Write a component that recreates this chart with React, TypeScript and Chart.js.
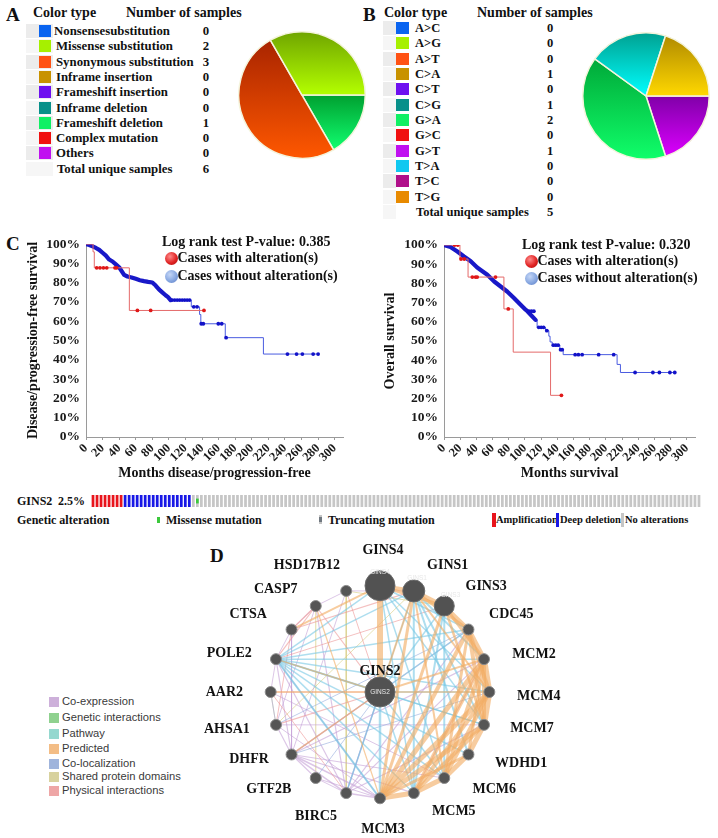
import React, { useEffect, useRef } from 'react';
import { Chart, registerables } from 'chart.js';
Chart.register(...registerables);

const SERIF = '"Liberation Serif", "Times New Roman", Times, serif';
const SANS = '"Liberation Sans", Arial, Helvetica, sans-serif';
Chart.defaults.font.family = SERIF;

/* ---------------- Panel A data ---------------- */
const mutationTypes = ['Nonsensesubstitution', 'Missense substitution', 'Synonymous substitution', 'Inframe insertion', 'Frameshift insertion', 'Inframe deletion', 'Frameshift deletion', 'Complex mutation', 'Others'];
const mutationCounts = [0, 2, 3, 0, 0, 0, 1, 0, 0];
const mutationTotal = 6;

/* ---------------- Panel B data ---------------- */
const substitutionTypes = ['A>C', 'A>G', 'A>T', 'C>A', 'C>T', 'C>G', 'G>A', 'G>C', 'G>T', 'T>A', 'T>C', 'T>G'];
const substitutionCounts = [0, 0, 0, 1, 0, 1, 2, 0, 1, 0, 0, 0];
const substitutionTotal = 5;

/* ---------------- Panel C data ---------------- */
const monthTickStep = 20;
const monthTickMax = 300;
const survivalTickStep = 10;

const dfsPValue = '0.385';
const dfsAlteredMonths = [0, 8.5, 10, 52.3, 142.3];
const dfsAlteredSurvival = [100, 96, 87.7, 65.6, 65.6];
const dfsAlteredCensored = [12.9, 16.9, 21, 25, 35, 37, 62, 78, 142.3];
const dfsUnalteredMonths = [0, 4, 8, 12, 16, 20, 24, 28, 32, 36, 40, 43, 46, 50, 55, 60, 65, 70, 75, 80, 84, 88, 92, 96, 99, 102, 127, 137, 138.5, 168, 214, 280];
const dfsUnalteredSurvival = [100, 99.5, 98.8, 98, 97, 95.5, 94, 92, 91, 89.5, 88, 86, 84, 83.2, 82.7, 82, 81.3, 80.8, 80.4, 80.1, 78.5, 76.5, 75, 73.5, 72.5, 71, 67.5, 63.5, 58.7, 51.5, 43, 43];
const dfsUnalteredCensored = [104, 107, 110, 113, 116, 119, 122, 125, 130, 134, 139, 141.5, 159.6, 163.7, 169, 243, 254, 261, 274, 280];

const osPValue = '0.320';
const osAlteredMonths = [0, 19.7, 29.7, 74, 85.5, 131.6, 145];
const osAlteredSurvival = [100, 92.7, 83.3, 66.7, 44.2, 21.7, 21.7];
const osAlteredCensored = [13, 17, 21, 25, 35, 39, 41, 63.6, 79.4, 145];
const osUnalteredMonths = [0, 8, 16.5, 24.7, 33, 41, 47, 53.5, 62, 70, 78, 86.4, 94.6, 100.8, 103, 113, 115, 125.3, 129.5, 131, 133.6, 143, 147.2, 213.8, 217.9, 285];
const osUnalteredSurvival = [100, 99, 96.6, 94, 91.5, 88.3, 86.5, 84.5, 81, 78.4, 75.8, 72.4, 68.9, 66.3, 65.5, 61, 57.1, 55.4, 52.5, 49.5, 47.8, 45.5, 42.9, 37.8, 33.6, 33.6];
const osUnalteredCensored = [105, 108, 111, 117, 120, 123, 127, 135, 138, 141, 144, 146, 162, 166, 170.6, 191, 209.6, 236, 258, 266, 279, 285];

/* ---------------- Oncoprint data ---------------- */
const oncoGene = 'GINS2';
const oncoAlteredPct = '2.5%';
const oncoGroups: [string, number][] = [['amp', 8], ['del', 17], ['none', 1], ['missense', 1], ['none', 125]];

/* ---------------- Panel D data ---------------- */
const hubGene = 'GINS2';
const networkGenes = ['GINS4', 'GINS1', 'GINS3', 'CDC45', 'MCM2', 'MCM4', 'MCM7', 'WDHD1', 'MCM6', 'MCM5', 'MCM3', 'BIRC5', 'GTF2B', 'DHFR', 'AHSA1', 'AAR2', 'POLE2', 'CTSA', 'CASP7', 'HSD17B12'];
const networkTypes = ['Co-expression', 'Genetic interactions', 'Pathway', 'Predicted', 'Co-localization', 'Shared protein domains', 'Physical interactions'];
const predictedEdges: [string, string, number][] = [
  ['GINS4', 'GINS2', 6], ['GINS4', 'GINS1', 4], ['GINS1', 'GINS3', 4], ['GINS3', 'CDC45', 4], ['CDC45', 'MCM2', 5], ['MCM2', 'MCM4', 6],
  ['MCM4', 'MCM7', 6], ['MCM7', 'WDHD1', 5], ['WDHD1', 'MCM6', 5], ['MCM6', 'MCM5', 5], ['MCM5', 'MCM3', 5], ['MCM3', 'MCM7', 5],
  ['MCM3', 'MCM4', 5], ['MCM3', 'MCM2', 5], ['MCM3', 'CDC45', 4], ['MCM5', 'MCM2', 4], ['MCM6', 'MCM2', 4], ['MCM5', 'MCM4', 4],
  ['MCM6', 'MCM4', 4], ['MCM5', 'MCM7', 4], ['CDC45', 'MCM7', 4], ['CDC45', 'MCM6', 3], ['CDC45', 'MCM4', 4], ['MCM2', 'MCM7', 4],
  ['GINS1', 'MCM3', 3], ['GINS3', 'MCM3', 3], ['GINS1', 'CDC45', 3], ['GINS3', 'MCM2', 3], ['GINS4', 'GINS3', 3], ['WDHD1', 'MCM3', 3],
  ['WDHD1', 'MCM2', 3], ['GINS1', 'MCM4', 2], ['GINS2', 'MCM2', 2], ['GINS2', 'GINS1', 2], ['CTSA', 'GINS4', 2], ['AAR2', 'MCM4', 1.5],
  ['DHFR', 'GINS2', 1.5], ['POLE2', 'GINS2', 1.5], ['CASP7', 'MCM3', 1.2], ['GINS3', 'MCM7', 2.5], ['GINS1', 'MCM6', 2],
];
const pathwayEdges: [string, string, number][] = [
  ['POLE2', 'GINS2', 2], ['POLE2', 'MCM3', 2], ['POLE2', 'MCM5', 1.5], ['POLE2', 'MCM6', 1.5], ['POLE2', 'MCM2', 1.5], ['POLE2', 'MCM4', 1.5],
  ['POLE2', 'MCM7', 1.5], ['POLE2', 'CDC45', 1.5], ['POLE2', 'GINS1', 1.5], ['POLE2', 'GINS4', 1.5], ['POLE2', 'WDHD1', 1.5], ['GINS1', 'MCM5', 2],
  ['GINS1', 'WDHD1', 2], ['GINS1', 'MCM7', 2], ['GINS1', 'MCM2', 2], ['GINS3', 'MCM6', 2], ['GINS3', 'MCM5', 2], ['GINS4', 'MCM5', 1.5],
  ['GINS4', 'MCM6', 1.5], ['GINS4', 'CDC45', 1.5], ['GINS4', 'MCM7', 1.5], ['GINS4', 'MCM4', 1.5], ['GINS2', 'MCM3', 2.5], ['GINS2', 'MCM5', 1.5],
  ['GINS2', 'MCM6', 1.5], ['GINS2', 'CDC45', 1.5], ['GINS2', 'MCM4', 1.5], ['GINS2', 'MCM7', 1.5], ['GINS2', 'GINS3', 1.5], ['GINS1', 'BIRC5', 1.2],
];
const coexpressionEdges: [string, string, number][] = [
  ['DHFR', 'MCM3', 1.5], ['DHFR', 'BIRC5', 1.5], ['DHFR', 'GINS2', 1.2], ['DHFR', 'MCM2', 1.2], ['DHFR', 'CDC45', 1.2], ['DHFR', 'MCM5', 1.2],
  ['DHFR', 'MCM6', 1.2], ['DHFR', 'AHSA1', 1.2], ['DHFR', 'GTF2B', 1.2], ['BIRC5', 'MCM3', 1.5], ['BIRC5', 'GINS2', 1.2], ['BIRC5', 'MCM2', 1.2],
  ['BIRC5', 'CDC45', 1.2], ['BIRC5', 'MCM7', 1.2], ['AHSA1', 'AAR2', 1], ['AAR2', 'POLE2', 1], ['POLE2', 'CTSA', 1], ['CTSA', 'CASP7', 1],
  ['CASP7', 'HSD17B12', 1], ['HSD17B12', 'GINS1', 1], ['CASP7', 'BIRC5', 1.2], ['HSD17B12', 'DHFR', 1], ['AHSA1', 'MCM3', 1], ['GTF2B', 'MCM3', 1],
  ['CASP7', 'AHSA1', 1], ['AAR2', 'MCM6', 1], ['AHSA1', 'MCM7', 1], ['POLE2', 'DHFR', 1.2], ['POLE2', 'BIRC5', 1.2], ['CTSA', 'DHFR', 1], ['GTF2B', 'BIRC5', 1],
];
const physicalEdges: [string, string, number][] = [
  ['CASP7', 'CTSA', 1.5], ['CASP7', 'POLE2', 1.2], ['CASP7', 'GINS2', 1.2], ['CTSA', 'GINS1', 1.2], ['POLE2', 'GINS3', 1], ['AAR2', 'BIRC5', 1],
  ['CTSA', 'AHSA1', 1], ['HSD17B12', 'GINS2', 1], ['AHSA1', 'GINS2', 1.2], ['AAR2', 'GINS2', 1], ['MCM2', 'MCM5', 1.2],
];
const sharedDomainEdges: [string, string, number][] = [
  ['HSD17B12', 'GINS3', 1], ['CASP7', 'GTF2B', 1.2], ['HSD17B12', 'BIRC5', 1], ['AHSA1', 'GINS1', 1],
];
const colocalizationEdges: [string, string, number][] = [
  ['GINS2', 'BIRC5', 1.5], ['GTF2B', 'GINS2', 1], ['AHSA1', 'CDC45', 1], ['DHFR', 'MCM4', 1], ['POLE2', 'MCM3', 1.2],
];
const geneticEdges: [string, string, number][] = [['AAR2', 'AHSA1', 0.8]];

/* ---------------- styles ---------------- */
const mutationSwatch = ['#0a64f0', '#a6f000', '#ff5214', '#c89200', '#6e10f0', '#08908a', '#10f064', '#f01010', '#c010f0'];
const mutationGrad: [string, string][] = [
  ['#0040b0', '#1070ff'], ['#6fa400', '#b4ff00'], ['#a82400', '#ff5800'], ['#a07000', '#e0a800'], ['#5000b0', '#8020ff'],
  ['#006060', '#10a0a0'], ['#00a030', '#10ff70'], ['#a00000', '#ff2020'], ['#9000b0', '#e020ff'],
];
const substitutionSwatch = ['#0a64f0', '#a6f000', '#ff5214', '#c89200', '#6e10f0', '#08908a', '#10f064', '#f01010', '#c010f0', '#10c8f0', '#b0108a', '#e88a00'];
const substitutionGrad: [string, string][] = [
  ['#0040b0', '#1070ff'], ['#6fa400', '#b4ff00'], ['#a82400', '#ff5800'], ['#b08a00', '#ffd800'], ['#5000b0', '#8020ff'],
  ['#00a090', '#00ffff'], ['#00a838', '#10ff6a'], ['#a00000', '#ff2020'], ['#8000a8', '#dc00ff'], ['#0090b0', '#20d8ff'],
  ['#800060', '#c01098'], ['#b06000', '#ff9800'],
];
const networkColors: Record<string, string> = {
  'Co-expression': 'rgba(196,160,214,0.6)',
  'Genetic interactions': 'rgba(130,205,130,0.6)',
  'Pathway': 'rgba(120,200,228,0.6)',
  'Predicted': 'rgba(242,172,100,0.62)',
  'Co-localization': 'rgba(140,165,218,0.55)',
  'Shared protein domains': 'rgba(215,205,128,0.6)',
  'Physical interactions': 'rgba(236,150,150,0.6)',
};
const networkLegendSwatch = ['#cdb0da', '#8fd18f', '#95d8cf', '#f3bd86', '#9fb4dc', '#d8d29e', '#eea6a6'];

/* ---------------- helpers ---------------- */
function ChartCanvas({ make, left, top, width, height }: { make: () => any; left: number; top: number; width: number; height: number }) {
  const ref = useRef<HTMLCanvasElement>(null);
  useEffect(() => {
    const chart = new Chart(ref.current as HTMLCanvasElement, make());
    return () => chart.destroy();
  }, []);
  return <canvas ref={ref} width={width} height={height} style={{ position: 'absolute', left, top, width, height }} />;
}

function Txt({ x, y, children, size = 13, weight = 'bold', family = SERIF, align = 'left', color = '#111', style = {} }: any) {
  const tx = align === 'left' ? '0' : align === 'right' ? '-100%' : '-50%';
  return (
    <div style={{ position: 'absolute', left: x, top: y, transform: `translate(${tx}, -50%)`, fontSize: size, fontWeight: weight, fontFamily: family, color, whiteSpace: 'nowrap', lineHeight: 1, ...style }}>
      {children}
    </div>
  );
}

function sliceGradient(ctx: any, values: number[], rotationDeg: number, cols: [string, string][]) {
  const chart = ctx.chart;
  const area = chart.chartArea;
  const i = ctx.dataIndex;
  if (!area || i === undefined) return cols[0][1];
  const cx = (area.left + area.right) / 2;
  const cy = (area.top + area.bottom) / 2;
  const r = Math.min(area.right - area.left, area.bottom - area.top) / 2;
  const total = values.reduce((a, b) => a + b, 0);
  let start = (rotationDeg * Math.PI) / 180 - Math.PI / 2;
  for (let k = 0; k < i; k++) start += (values[k] / total) * Math.PI * 2;
  const end = start + (values[i] / total) * Math.PI * 2;
  let minY = cy, maxY = cy;
  for (let s = 0; s <= 60; s++) {
    const a = start + ((end - start) * s) / 60;
    const y = cy + r * Math.sin(a);
    minY = Math.min(minY, y);
    maxY = Math.max(maxY, y);
  }
  const g = chart.ctx.createLinearGradient(0, minY, 0, maxY + 0.01);
  g.addColorStop(0, cols[i][0]);
  g.addColorStop(1, cols[i][1]);
  return g;
}

function pieConfig(labels: string[], counts: number[], grads: [string, string][]) {
  const idx = counts.map((_, i) => i).filter((i) => counts[i] > 0).reverse();
  const values = idx.map((i) => counts[i]);
  const cols = idx.map((i) => grads[i]);
  return {
    type: 'pie',
    data: {
      labels: idx.map((i) => labels[i]),
      datasets: [{ data: values, backgroundColor: (c: any) => sliceGradient(c, values, 90, cols), borderColor: '#f4f4dc', borderWidth: 1.5 }],
    },
    options: { responsive: false, animation: false, rotation: 90, layout: { padding: 0 }, plugins: { legend: { display: false }, tooltip: { enabled: false } } },
  };
}

function survAt(months: number[], surv: number[], t: number) {
  let v = surv[0];
  for (let i = 0; i < months.length; i++) if (months[i] <= t) v = surv[i];
  return v;
}

function kmConfig(o: any) {
  const pts = (m: number[], s: number[]) => m.map((x, i) => ({ x, y: s[i] }));
  const cens = (c: number[], m: number[], s: number[]) => c.map((x) => ({ x, y: survAt(m, s, x) }));
  const all = pts(o.unM, o.unS);
  const dense = all.filter((p) => p.x <= o.thickUntil);
  const sparse = all.filter((p) => p.x >= o.thickUntil);
  return {
    type: 'scatter',
    data: {
      datasets: [
        { label: 'Cases with alteration(s) censored', data: cens(o.altC, o.altM, o.altS), pointRadius: 1.9, pointStyle: 'circle', backgroundColor: '#e01818', borderWidth: 0 },
        { label: 'Cases without alteration(s) censored', data: cens(o.unC, o.unM, o.unS), pointRadius: 1.9, pointStyle: 'circle', backgroundColor: '#1212c8', borderWidth: 0 },
        { label: 'Cases with alteration(s)', data: pts(o.altM, o.altS), showLine: true, stepped: true, pointRadius: 0, borderColor: '#e46a6a', borderWidth: 1 },
        { label: 'Cases without alteration(s) (dense)', data: dense, showLine: true, stepped: false, pointRadius: 0, borderColor: '#1818c8', borderWidth: 4.2, borderJoinStyle: 'round', borderCapStyle: 'round' },
        { label: 'Cases without alteration(s)', data: sparse, showLine: true, stepped: true, pointRadius: 0, borderColor: '#4a5ce0', borderWidth: 1 },
      ],
    },
    options: {
      responsive: false, animation: false,
      layout: { padding: { top: o.padTop, right: o.padRight, left: 0, bottom: 0 } },
      plugins: { legend: { display: false }, tooltip: { enabled: false } },
      scales: {
        x: {
          type: 'linear', min: 0, max: 310,
          ticks: { stepSize: monthTickStep, includeBounds: false, autoSkip: false, maxRotation: 45, minRotation: 45, padding: 1, color: '#1a1a1a', font: { family: SERIF, weight: 'bold', size: 12.5 }, callback: (v: number) => (v <= monthTickMax ? String(v) : '') },
          grid: { display: true, drawOnChartArea: false, drawTicks: true, tickLength: 3, color: '#9a9a9a' },
          border: { display: true, color: '#9a9a9a', width: 1 },
          title: { display: true, text: o.xTitle, color: '#111', font: { family: SERIF, weight: 'bold', size: 14 }, padding: { top: 0, bottom: 3.6 } },
          afterFit: (s: any) => { s.height = 48; },
        },
        y: {
          min: 0, max: 100,
          ticks: { stepSize: survivalTickStep, padding: 6, color: '#1a1a1a', font: { family: SERIF, weight: 'bold', size: 13.5 }, callback: (v: number) => v + '%' },
          grid: { display: false, drawTicks: false },
          border: { display: true, color: '#9a9a9a', width: 1 },
          title: { display: true, text: o.yTitle, color: '#111', font: { family: SERIF, weight: 'bold', size: 14 }, padding: { top: o.yTitlePad, bottom: 0 } },
          afterFit: (s: any) => { s.width = o.axisWidth; },
        },
      },
    },
  };
}

const oncoStatus: string[] = oncoGroups.flatMap(([s, n]) => Array.from({ length: n }, () => s));
const oncoColor: Record<string, string> = { amp: '#e8141c', del: '#1818e6', none: '#c6c6c6', missense: '#c6c6c6' };

function oncoConfig() {
  return {
    type: 'bar',
    data: {
      labels: oncoStatus.map((_, i) => String(i + 1)),
      datasets: [
        { label: 'Missense mutation', data: oncoStatus.map((s) => (s === 'missense' ? [0.3, 0.7] : null)), backgroundColor: '#3cc83c', grouped: false, barPercentage: 0.68, categoryPercentage: 1 },
        { label: 'Genetic alteration', data: oncoStatus.map(() => 1), backgroundColor: oncoStatus.map((s) => oncoColor[s]), grouped: false, barPercentage: 0.68, categoryPercentage: 1 },
      ],
    },
    options: {
      responsive: false, animation: false,
      layout: { padding: 0 },
      plugins: { legend: { display: false }, tooltip: { enabled: false } },
      scales: { x: { display: false }, y: { display: false, min: 0, max: 1 } },
    },
  };
}

/* network geometry: 1 data unit = 120 px */
const NET_LEFT = 200, NET_TOP = 552, NET_W = 360, NET_H = 280, NET_UNIT = 120;
const geneAngle = (i: number) => ((90 - (i * 360) / networkGenes.length) * Math.PI) / 180;
function genePos(name: string) {
  if (name === hubGene) return { x: 0, y: 0 };
  const i = networkGenes.indexOf(name);
  return { x: Math.cos(geneAngle(i)), y: Math.sin(geneAngle(i)) };
}
const genePx = (name: string) => {
  const p = genePos(name);
  return { x: NET_LEFT + NET_W / 2 + p.x * NET_UNIT, y: NET_TOP + NET_H / 2 - p.y * NET_UNIT };
};
const nodeRadius: Record<string, number> = { GINS4: 15, GINS2: 15, GINS1: 11, GINS3: 10 };
const labelPlace: Record<string, [number, number, string]> = {
  GINS4: [3, -22, 'center'], GINS1: [10, -13, 'left'], GINS3: [15, -9, 'left'], CDC45: [12, -7, 'left'], MCM2: [18, -1, 'left'],
  MCM4: [17, 4, 'left'], MCM7: [16, -1, 'left'], WDHD1: [18, 0, 'left'], MCM6: [22, 0, 'left'], MCM5: [15, 5, 'left'],
  MCM3: [3, 17, 'center'], BIRC5: [-6, 10, 'right'], GTF2B: [-18, 0, 'right'], DHFR: [-14, -4, 'right'], AHSA1: [-16, 0, 'right'],
  AAR2: [-17, 0, 'right'], POLE2: [-14, -2, 'right'], CTSA: [-16, -7, 'right'], CASP7: [-12, -6, 'right'], HSD17B12: [-3, -13, 'right'],
  GINS2: [0, -21, 'center'],
};

function networkConfig() {
  const allNodes = [...networkGenes, hubGene];
  const edgeSets: [string, [string, string, number][]][] = [
    ['Predicted', predictedEdges], ['Pathway', pathwayEdges], ['Co-localization', colocalizationEdges], ['Physical interactions', physicalEdges],
    ['Co-expression', coexpressionEdges], ['Shared protein domains', sharedDomainEdges], ['Genetic interactions', geneticEdges],
  ];
  const edgeDatasets: any[] = [];
  edgeSets.forEach(([type, list]) => {
    list.forEach(([a, b, w]) => {
      edgeDatasets.push({ label: type, data: [genePos(a), genePos(b)], showLine: true, pointRadius: 0, borderColor: networkColors[type], borderWidth: w, clip: false });
    });
  });
  return {
    type: 'scatter',
    data: {
      datasets: [
        {
          label: 'genes', data: allNodes.map(genePos), clip: false,
          pointRadius: allNodes.map((n) => nodeRadius[n] ?? 5.5),
          backgroundColor: allNodes.map((n) => (nodeRadius[n] ? '#525252' : '#555555')),
          borderColor: allNodes.map((n) => (nodeRadius[n] ? '#6a6a6a' : '#8c8c8c')),
          borderWidth: 1,
        },
        ...edgeDatasets,
      ],
    },
    options: {
      responsive: false, animation: false,
      layout: { padding: 0 },
      plugins: { legend: { display: false }, tooltip: { enabled: false } },
      scales: {
        x: { type: 'linear', display: false, min: -NET_W / 2 / NET_UNIT, max: NET_W / 2 / NET_UNIT },
        y: { type: 'linear', display: false, min: -NET_H / 2 / NET_UNIT, max: NET_H / 2 / NET_UNIT },
      },
    },
  };
}

/* ---------------- components ---------------- */
function Ball({ x, y, kind }: { x: number; y: number; kind: 'red' | 'blue' }) {
  const bg = kind === 'red'
    ? 'radial-gradient(circle at 38% 35%, #ff8a8a 0%, #e02424 55%, #a80a0a 100%)'
    : 'radial-gradient(circle at 38% 35%, #c4d6f6 0%, #86a6e0 55%, #5a7cc4 100%)';
  return <div style={{ position: 'absolute', left: x - 6.5, top: y - 6.5, width: 13, height: 13, borderRadius: '50%', background: bg }} />;
}

export default function App() {
  const rowA = 15.3;
  const rowB = 15.33;
  return (
    <div style={{ position: 'absolute', left: 0, top: 0, width: 718, height: 838, background: '#fff', overflow: 'hidden', fontFamily: SERIF }}>
      {/* Panel A */}
      <Txt x={6} y={14} size={19}>A</Txt>
      <Txt x={33} y={13} size={14}>Color type</Txt>
      <Txt x={126} y={13} size={14}>Number of samples</Txt>
      {mutationTypes.map((t, i) => (
        <React.Fragment key={t}>
          <div style={{ position: 'absolute', left: 26, top: 31 + i * rowA - 7, width: 27, height: 14, background: i % 2 === 0 ? '#ececec' : '#f6f6f6' }} />
          <div style={{ position: 'absolute', left: 39, top: 31 + i * rowA - 6, width: 12, height: 12, background: mutationSwatch[i] }} />
          <Txt x={i === 0 ? 54 : 56} y={31 + i * rowA} size={12.8}>{t}</Txt>
          <Txt x={206} y={31 + i * rowA} size={12.8} align="center">{mutationCounts[i]}</Txt>
        </React.Fragment>
      ))}
      <div style={{ position: 'absolute', left: 26, top: 169 - 7, width: 27, height: 14, background: '#f6f6f6' }} />
      <Txt x={57} y={169} size={12.8}>Total unique samples</Txt>
      <Txt x={206} y={169} size={12.8} align="center">{mutationTotal}</Txt>
      <ChartCanvas make={() => pieConfig(mutationTypes, mutationCounts, mutationGrad)} left={238} top={31} width={128} height={128} />

      {/* Panel B */}
      <Txt x={363} y={14} size={19}>B</Txt>
      <Txt x={384} y={13} size={14}>Color type</Txt>
      <Txt x={477} y={13} size={14}>Number of samples</Txt>
      {substitutionTypes.map((t, i) => (
        <React.Fragment key={t}>
          <div style={{ position: 'absolute', left: 383, top: 28 + i * rowB - 7, width: 13, height: 14, background: i % 2 === 0 ? '#ececec' : '#f6f6f6' }} />
          <div style={{ position: 'absolute', left: 396, top: 28 + i * rowB - 6, width: 13, height: 12, background: substitutionSwatch[i] }} />
          <Txt x={415} y={28 + i * rowB} size={12.5}>{t}</Txt>
          <Txt x={550} y={28 + i * rowB} size={12.5} align="center">{substitutionCounts[i]}</Txt>
        </React.Fragment>
      ))}
      <div style={{ position: 'absolute', left: 383, top: 212 - 7, width: 13, height: 14, background: '#f6f6f6' }} />
      <Txt x={416} y={212} size={12.5}>Total unique samples</Txt>
      <Txt x={550} y={212} size={12.5} align="center">{substitutionTotal}</Txt>
      <ChartCanvas make={() => pieConfig(substitutionTypes, substitutionCounts, substitutionGrad)} left={582} top={32} width={128} height={128} />

      {/* Panel C */}
      <Txt x={6} y={243} size={19}>C</Txt>
      <ChartCanvas
        make={() => kmConfig({ altM: dfsAlteredMonths, altS: dfsAlteredSurvival, altC: dfsAlteredCensored, unM: dfsUnalteredMonths, unS: dfsUnalteredSurvival, unC: dfsUnalteredCensored, thickUntil: 102, xTitle: 'Months disease/progression-free', yTitle: 'Disease/progression-free survival', padTop: 14, padRight: 15, axisWidth: 86, yTitlePad: 24.6 })}
        left={0} top={230} width={358} height={255}
      />
      <Txt x={162} y={242} size={14}>Log rank test P-value: {dfsPValue}</Txt>
      <Ball x={171} y={258} kind="red" />
      <Txt x={177.5} y={258} size={14}>Cases with alteration(s)</Txt>
      <Ball x={171} y={276} kind="blue" />
      <Txt x={177.5} y={276} size={14}>Cases without alteration(s)</Txt>

      <ChartCanvas
        make={() => kmConfig({ altM: osAlteredMonths, altS: osAlteredSurvival, altC: osAlteredCensored, unM: osUnalteredMonths, unS: osUnalteredSurvival, unC: osUnalteredCensored, thickUntil: 113, xTitle: 'Months survival', yTitle: 'Overall survival', padTop: 15, padRight: 23, axisWidth: 84, yTitlePad: 21.6 })}
        left={360} top={230} width={358} height={255}
      />
      <Txt x={522} y={245} size={14}>Log rank test P-value: {osPValue}</Txt>
      <Ball x={531} y={261} kind="red" />
      <Txt x={537.5} y={261} size={14}>Cases with alteration(s)</Txt>
      <Ball x={531} y={278} kind="blue" />
      <Txt x={537.5} y={278} size={14}>Cases without alteration(s)</Txt>

      {/* Oncoprint */}
      <Txt x={17} y={501} size={12}>{oncoGene}</Txt>
      <Txt x={58} y={501} size={12}>{oncoAlteredPct}</Txt>
      <ChartCanvas make={oncoConfig} left={91} top={495} width={610} height={12} />
      <Txt x={17} y={520} size={12}>Genetic alteration</Txt>
      <div style={{ position: 'absolute', left: 157, top: 517, width: 3, height: 6, background: '#3cc83c' }} />
      <Txt x={166} y={520} size={12}>Missense mutation</Txt>
      <div style={{ position: 'absolute', left: 319, top: 515, width: 3, height: 9, background: '#c6c6c6' }} />
      <div style={{ position: 'absolute', left: 319, top: 517, width: 3, height: 5, background: '#707880' }} />
      <Txt x={328} y={520} size={12}>Truncating mutation</Txt>
      <div style={{ position: 'absolute', left: 492, top: 513, width: 3.5, height: 14, background: '#e8141c' }} />
      <Txt x={496} y={520} size={10.5}>Amplification</Txt>
      <div style={{ position: 'absolute', left: 555.5, top: 513, width: 3.5, height: 14, background: '#1818e6' }} />
      <Txt x={560} y={520} size={10.5}>Deep deletion</Txt>
      <div style={{ position: 'absolute', left: 620.5, top: 513, width: 3.5, height: 14, background: '#c6c6c6' }} />
      <Txt x={625} y={520} size={10.5}>No alterations</Txt>

      {/* Panel D */}
      <Txt x={210} y={555} size={19}>D</Txt>
      {networkTypes.map((t, i) => {
        const ys = [702, 718, 734, 749, 764, 777, 791];
        return (
          <React.Fragment key={t}>
            <div style={{ position: 'absolute', left: 49, top: ys[i] - 5, width: 9.5, height: 10, background: networkLegendSwatch[i] }} />
            <Txt x={62} y={ys[i]} size={11.2} weight="normal" family={SANS} color="#3a3a3a">{t}</Txt>
          </React.Fragment>
        );
      })}
      <ChartCanvas make={networkConfig} left={NET_LEFT} top={NET_TOP} width={NET_W} height={NET_H} />
      {[...networkGenes, hubGene].map((g) => {
        const p = genePx(g);
        const [dx, dy, align] = labelPlace[g];
        return (
          <React.Fragment key={g}>
            <Txt x={p.x + dx} y={p.y + dy} size={14} align={align}>{g}</Txt>
            {nodeRadius[g] ? <Txt x={p.x} y={p.y} size={6.5} weight="normal" family={SANS} align="center" color="#e8e8e8">{g}</Txt> : null}
          </React.Fragment>
        );
      })}
    </div>
  );
}
